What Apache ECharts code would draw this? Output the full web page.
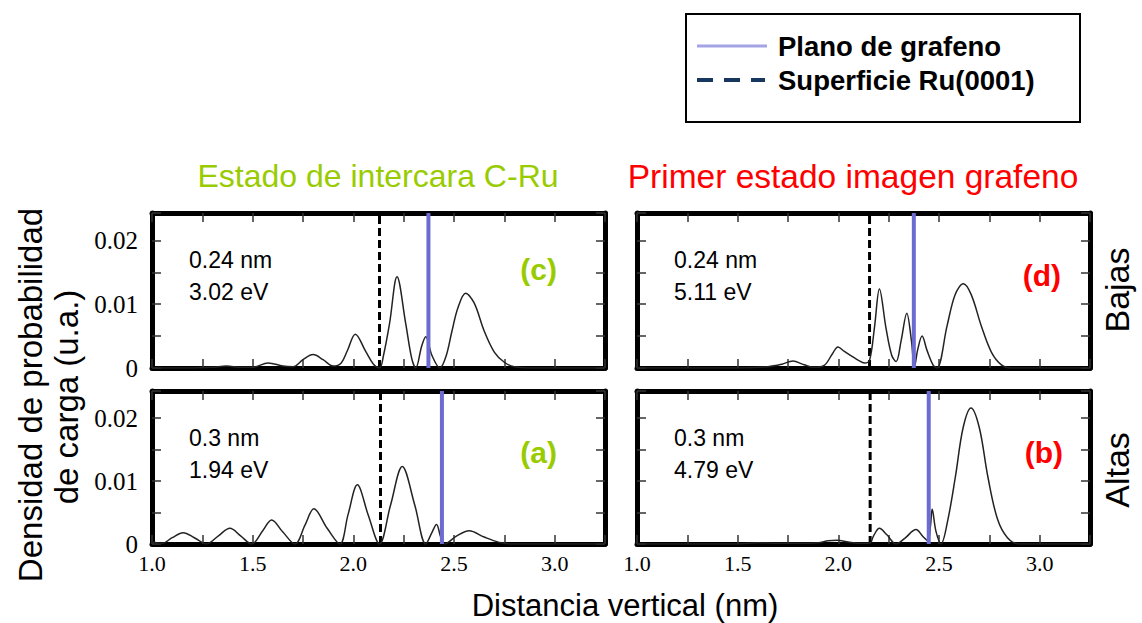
<!DOCTYPE html>
<html><head><meta charset="utf-8">
<script src="https://cdn.jsdelivr.net/npm/echarts@6/dist/echarts.min.js"></script>
<style>html,body{margin:0;padding:0;background:#fff}#main{width:1142px;height:623px;background:#fff}</style>
</head><body><div id="main"></div>
<script>
// ---- data ----
const xTickLabels = ['1.0','1.5','2.0','2.5','3.0'];
const yTickLabels = ['0','0.01','0.02'];
const panelNames = ['(c)','(d)','(a)','(b)'];
const panelDist = ['0.24 nm','0.24 nm','0.3 nm','0.3 nm'];
const panelEnergy = ['3.02 eV','5.11 eV','1.94 eV','4.79 eV'];
const columnTitles = ['Estado de intercara C-Ru','Primer estado imagen grafeno'];
const rowTitles = ['Bajas','Altas'];
const legendNames = ['Plano de grafeno','Superficie Ru(0001)'];
// vertical reference lines (nm): Ru(0001) surface (dashed) and graphene plane (solid)
const surfacePos = [2.13, 2.155, 2.135, 2.158];
const planePos = [2.373, 2.375, 2.44, 2.449];
const yTop = 0.0243;

// (c) interface state, low
const cX = [1.00,1.20,1.30,1.37,1.44,1.50,1.577,1.65,1.70,1.75,1.80,1.85,1.90,1.94,1.97,2.01,2.06,2.10,2.13,2.15,2.18,2.217,2.26,2.29,2.31,2.34,2.36,2.39,2.43,2.46,2.49,2.52,2.558,2.60,2.65,2.70,2.75,2.80,2.90,3.25];
const cY = [0,0,0.0001,0.0003,0.0001,0.0001,0.0008,0.0003,0.0002,0.0013,0.0021,0.0013,0.0003,0.0008,0.0027,0.0053,0.0027,0.0006,0,0.002,0.007,0.0143,0.007,0.0015,0,0.0035,0.0049,0.002,0,0.0018,0.0058,0.0095,0.0117,0.0102,0.0058,0.0025,0.0009,0.0002,0,0];
// (d) first image state, low
const dX = [1.00,1.50,1.65,1.72,1.774,1.83,1.88,1.93,1.97,1.998,2.03,2.07,2.10,2.13,2.155,2.18,2.204,2.237,2.265,2.287,2.312,2.34,2.363,2.378,2.395,2.416,2.44,2.47,2.49,2.54,2.58,2.621,2.66,2.71,2.76,2.81,2.86,3.25];
const dY = [0,0,0.0002,0.0006,0.0011,0.0005,0.0001,0.0004,0.0022,0.0033,0.0026,0.0018,0.0012,0.0008,0.0012,0.0065,0.0124,0.0062,0.002,0.001,0.0043,0.0086,0.0043,0.0002,0.003,0.005,0.0028,0.0005,0,0.0066,0.0115,0.0132,0.0115,0.0066,0.0025,0.0005,0,0];
// (a) interface state, high
const aX = [1.00,1.05,1.10,1.155,1.21,1.27,1.33,1.387,1.44,1.495,1.55,1.594,1.65,1.71,1.76,1.804,1.87,1.933,1.974,2.02,2.073,2.13,2.185,2.243,2.305,2.36,2.39,2.413,2.435,2.454,2.51,2.575,2.65,2.72,2.78,3.25];
const aY = [0.0003,0.0001,0.001,0.0018,0.001,0,0.0013,0.0025,0.0013,0,0.0021,0.0038,0.0019,0,0.003,0.0056,0.0025,0,0.0047,0.0094,0.0047,0,0.0062,0.0123,0.0062,0,0.0018,0.0031,0.001,0,0.0012,0.0021,0.0011,0.0003,0,0];
// (b) first image state, high
const bX = [1.00,1.50,1.60,1.70,1.80,1.90,1.95,1.993,2.05,2.10,2.155,2.175,2.204,2.24,2.287,2.33,2.386,2.42,2.445,2.458,2.466,2.485,2.51,2.545,2.582,2.62,2.659,2.70,2.742,2.79,2.84,2.90,3.25];
const bY = [0,0,0.0002,0.0001,0.0001,0.0002,0.0005,0.0006,0.0003,0.0001,0.0001,0.0013,0.0025,0.0015,0,0.0009,0.0023,0.0012,0.0005,0.003,0.0055,0.002,0,0.004,0.0108,0.0185,0.0216,0.0185,0.0108,0.004,0.001,0,0];

// ---- layout ----
const SANS = 'Liberation Sans, Arial, sans-serif';
const SERIF = 'Liberation Serif, Times New Roman, serif';
const grids = [
  {left:152, top:213, width:453, height:155},
  {left:637, top:213, width:453, height:155},
  {left:152, top:391, width:453, height:153},
  {left:637, top:391, width:453, height:153}
];
const panelXs = [cX, dX, aX, bX];
const panelYs = [cY, dY, aY, bY];
const labelColors = ['#99cc00','#ff0000','#99cc00','#ff0000'];
const labelPos = [[557,269],[1061,275],[557,452],[1063,452]];

function lookup(list, v) {
  for (const s of list) if (Math.abs(parseFloat(s) - v) < 1e-9) return s;
  return '';
}
const X_RANGE = {min:1.0, max:3.25, interval:0.25};
const Y_RANGE = {min:0, max:yTop, interval:0.005};

// frame + ticks axes (no label fonts), and separate label-only axes
function tickAxis(i, pos, range) {
  return Object.assign({
    type:'value', gridIndex:i, position:pos,
    axisLine:{show:true, onZero:false, lineStyle:{color:'#000', width:5}},
    splitLine:{show:false},
    axisTick:{show:true, inside:true, length:9, lineStyle:{color:'#333', width:1.5}},
    axisLabel:{show:false}
  }, range);
}
function labelAxis(i, pos, range, show, list, fontSize, margin) {
  return Object.assign({
    type:'value', gridIndex:i, position:pos,
    axisLine:{show:false, onZero:false}, splitLine:{show:false}, axisTick:{show:false},
    axisLabel:{show:show, margin:margin, fontFamily:SERIF, fontSize:fontSize, color:'#000',
      formatter:v => lookup(list, v)}
  }, range);
}

const xAxes = [], yAxes = [], series = [], graphic = [];
grids.forEach((g, i) => {
  const bottomRow = i >= 2, leftCol = i % 2 === 0;
  const xBase = xAxes.length, yBase = yAxes.length;
  xAxes.push(tickAxis(i, 'bottom', X_RANGE));
  xAxes.push(tickAxis(i, 'top', X_RANGE));
  xAxes.push(labelAxis(i, 'bottom', X_RANGE, bottomRow, xTickLabels, 22, 8));
  yAxes.push(tickAxis(i, 'left', Y_RANGE));
  yAxes.push(tickAxis(i, 'right', Y_RANGE));
  yAxes.push(labelAxis(i, 'left', Y_RANGE, leftCol, yTickLabels, 25, 14));
  // Ru(0001) surface (dashed) and graphene plane (solid) as vertical two-point series
  series.push({
    type:'line', xAxisIndex:xBase, yAxisIndex:yBase, showSymbol:false, silent:true, z:1,
    lineStyle:{type:[8,4], color:'#000', width:3},
    data:[[surfacePos[i], 0], [surfacePos[i], yTop]]
  });
  series.push({
    type:'line', xAxisIndex:xBase, yAxisIndex:yBase, showSymbol:false, silent:true, z:3,
    lineStyle:{type:'solid', color:'#6b6bd1', width:4},
    data:[[planePos[i], 0], [planePos[i], yTop]]
  });
  // charge density curve
  series.push({
    type:'line', xAxisIndex:xBase, yAxisIndex:yBase, showSymbol:false, smooth:0.35, z:2,
    lineStyle:{color:'#222', width:1.5},
    data: panelXs[i].map((x, k) => [x, panelYs[i][k]])
  });
  // annotations inside panel
  graphic.push({type:'text', x:g.left+37, y:g.top+47, style:{text:panelDist[i], font:'23px '+SANS, fill:'#000', align:'left', verticalAlign:'middle'}});
  graphic.push({type:'text', x:g.left+37, y:g.top+79, style:{text:panelEnergy[i], font:'23px '+SANS, fill:'#000', align:'left', verticalAlign:'middle'}});
  graphic.push({type:'text', x:labelPos[i][0], y:labelPos[i][1], style:{text:panelNames[i], font:'bold 30px '+SANS, fill:labelColors[i], align:'right', verticalAlign:'middle'}});
});

// column / row titles, axis names
graphic.push({type:'text', x:378, y:176, style:{text:columnTitles[0], font:'32px '+SANS, fill:'#99cc00', align:'center', verticalAlign:'middle'}});
graphic.push({type:'text', x:853, y:176, style:{text:columnTitles[1], font:'33.5px '+SANS, fill:'#ff0000', align:'center', verticalAlign:'middle'}});
graphic.push({type:'text', x:1117, y:290, rotation:Math.PI/2, style:{text:rowTitles[0], font:'34px '+SANS, fill:'#000', align:'center', verticalAlign:'middle'}});
graphic.push({type:'text', x:1117, y:470, rotation:Math.PI/2, style:{text:rowTitles[1], font:'34px '+SANS, fill:'#000', align:'center', verticalAlign:'middle'}});
graphic.push({type:'text', x:30, y:395, rotation:Math.PI/2, style:{text:'Densidad de probabilidad', font:'33px '+SANS, fill:'#000', align:'center', verticalAlign:'middle'}});
graphic.push({type:'text', x:66, y:397, rotation:Math.PI/2, style:{text:'de carga (u.a.)', font:'33px '+SANS, fill:'#000', align:'center', verticalAlign:'middle'}});
graphic.push({type:'text', x:625, y:605, style:{text:'Distancia vertical (nm)', font:'31px '+SANS, fill:'#000', align:'center', verticalAlign:'middle'}});

// legend box
graphic.push({type:'rect', shape:{x:686, y:14, width:394, height:108}, style:{fill:'#fff', stroke:'#000', lineWidth:2}});
graphic.push({type:'line', shape:{x1:697, y1:46, x2:767, y2:46}, style:{stroke:'#a3a3e6', lineWidth:3}});
graphic.push({type:'line', shape:{x1:697, y1:80, x2:765, y2:80}, style:{stroke:'#17375e', lineWidth:4, lineDash:[16,11]}});
graphic.push({type:'text', x:778, y:46, style:{text:legendNames[0], font:'bold 27.5px '+SANS, fill:'#000', align:'left', verticalAlign:'middle'}});
graphic.push({type:'text', x:778, y:80, style:{text:legendNames[1], font:'bold 27.5px '+SANS, fill:'#000', align:'left', verticalAlign:'middle'}});

const chart = echarts.init(document.getElementById('main'), null, {renderer:'svg'});
chart.setOption({
  animation:false,
  grid: grids.map(g => Object.assign({show:false}, g)),
  xAxis: xAxes,
  yAxis: yAxes,
  series: series,
  graphic: graphic
});
</script>
</body></html>
